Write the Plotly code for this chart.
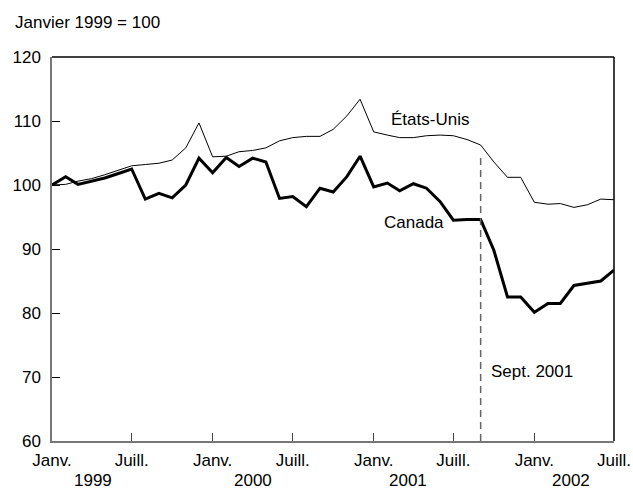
import pandas as pd
import plotly.graph_objects as go

months = pd.date_range("1999-01-01", "2002-07-01", freq="MS")

canada = [100.0, 101.3, 100.1, 100.6, 101.1, 101.8, 102.5, 97.8, 98.7, 98.0,
          100.0, 104.2, 101.9, 104.3, 102.9, 104.2, 103.6, 97.9, 98.2, 96.6,
          99.5, 98.9, 101.3, 104.5, 99.7, 100.3, 99.1, 100.2, 99.5, 97.4,
          94.5, 94.6, 94.6, 89.8, 82.5, 82.5, 80.1, 81.5, 81.5, 84.3,
          84.7, 85.0, 86.7]

etats_unis = [100.0, 100.1, 100.6, 101.0, 101.6, 102.3, 103.0, 103.2, 103.4, 103.9,
              105.8, 109.7, 104.4, 104.5, 105.2, 105.4, 105.8, 106.9, 107.4, 107.6,
              107.6, 108.7, 110.8, 113.4, 108.3, 107.8, 107.4, 107.4, 107.7, 107.8,
              107.7, 107.1, 106.25, 103.6, 101.2, 101.2, 97.3, 97.0, 97.1, 96.5,
              96.9, 97.8, 97.7]

tick_dates = ["1999-01-01", "1999-07-01", "2000-01-01", "2000-07-01",
              "2001-01-01", "2001-07-01", "2002-01-01", "2002-07-01"]
tick_text = ["Janv.", "Juill."] * 4
years = ["1999", "2000", "2001", "2002"]
year_pos = ["1999-04-05", "2000-04-01", "2001-03-20", "2002-03-25"]

font = "Liberation Sans, Arial, sans-serif"

fig = go.Figure()
fig.add_trace(go.Scatter(x=months, y=etats_unis, mode="lines",
                         line=dict(color="black", width=1), name="États-Unis"))
fig.add_trace(go.Scatter(x=months, y=canada, mode="lines",
                         line=dict(color="black", width=3), name="Canada"))

# ligne pointillée sept. 2001
fig.add_shape(type="line", x0="2001-09-01", x1="2001-09-01", y0=60, y1=104.4,
              xref="x", yref="y", line=dict(color="#666666", width=1.5, dash="7px,5px"))
# cadre haut et droite
fig.add_shape(type="line", xref="paper", yref="paper", x0=0, x1=1, y0=1, y1=1,
              line=dict(color="black", width=1.5))
fig.add_shape(type="line", xref="paper", yref="paper", x0=1, x1=1, y0=0, y1=1,
              line=dict(color="black", width=1.5))

fig.add_annotation(x="2001-05-08", y=110.2, text="États-Unis", showarrow=False)
fig.add_annotation(x="2001-04-02", y=94.2, text="Canada", showarrow=False)
fig.add_annotation(x="2001-09-20", y=70.8, text="Sept. 2001", showarrow=False,
                   xanchor="left")
for yr, pos in zip(years, year_pos):
    fig.add_annotation(x=pos, y=-0.104, yref="paper", text=yr, showarrow=False,
                       yanchor="middle")
fig.add_annotation(x=-0.069, y=1.091, xref="paper", yref="paper",
                   text="Janvier 1999 = 100", showarrow=False,
                   xanchor="left", yanchor="middle")

fig.update_layout(
    width=633, height=490,
    margin=dict(l=52, r=19, t=57, b=49),
    paper_bgcolor="white", plot_bgcolor="white",
    showlegend=False,
    font=dict(family=font, size=17, color="black"),
)
fig.update_xaxes(
    range=["1999-01-01", "2002-07-01"],
    tickvals=tick_dates, ticktext=tick_text,
    ticks="inside", ticklen=8, tickcolor="#444444",
    showline=True, linecolor="#777777", linewidth=1.5,
    showgrid=False, zeroline=False, automargin=False, ticklabelstandoff=3,
)
fig.update_yaxes(
    range=[60, 120], dtick=10,
    ticks="inside", ticklen=8, tickcolor="black",
    showline=True, linecolor="#777777", linewidth=1.5,
    showgrid=False, zeroline=False, automargin=False, ticklabelstandoff=6,
)

fig.write_html("out.html", config={"displayModeBar": False},
               post_script="document.body.style.margin='0';")
